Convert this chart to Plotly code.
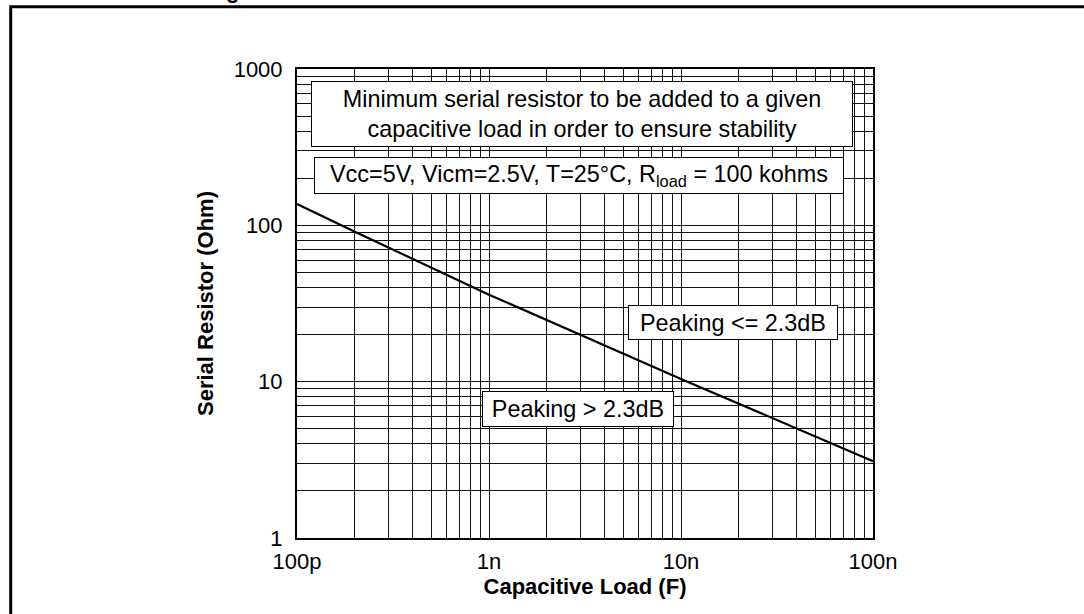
import plotly.graph_objects as go

# Data
cap_load_f = [1e-10, 2e-10, 1e-9, 1e-8, 1e-7]
serial_res_ohm = [137, 91, 36, 10.4, 3.1]

x_major = [1e-10, 1e-9, 1e-8, 1e-7]
x_major_text = ["100p", "1n", "10n", "100n"]
y_major = [1, 10, 100, 1000]
y_major_text = ["1", "10", "100", "1000"]

note_title = "Minimum serial resistor to be added to a given<br>capacitive load in order to ensure stability"
note_cond = "Vcc=5V, Vicm=2.5V, T=25°C, R<sub>load</sub> = 100 kohms"
note_low = "Peaking <= 2.3dB"
note_high = "Peaking > 2.3dB"
cut_heading = "<b>g</b>"


def log_ticks(majors, texts):
    vals, labels = [], []
    for i, m in enumerate(majors):
        vals.append(m)
        labels.append(texts[i])
        if i < len(majors) - 1:
            for k in range(2, 10):
                vals.append(m * k)
                labels.append("")
    return vals, labels


xt_vals, xt_text = log_ticks(x_major, x_major_text)
yt_vals, yt_text = log_ticks(y_major, y_major_text)

FONT = "Liberation Sans, Arial, sans-serif"
W, H = 1084, 614
L, R, T, B = 297, 211, 69, 76
PW, PH = W - L - R, H - T - B


def px(xp):
    return (xp - L) / PW


def py(yp):
    return (H - B - yp) / PH


fig = go.Figure()
fig.add_trace(go.Scatter(
    x=cap_load_f, y=serial_res_ohm, mode="lines",
    line=dict(color="black", width=2.2), showlegend=False,
    hoverinfo="x+y"))

axis_common = dict(
    type="log", showline=True, linecolor="black", linewidth=2, mirror=True,
    showgrid=True, gridcolor="#111111", gridwidth=1, zeroline=False,
    ticks="", tickfont=dict(family=FONT, size=22, color="black"),
)

fig.update_xaxes(
    **axis_common,
    range=[-10, -7], tickmode="array", tickvals=xt_vals, ticktext=xt_text,
    ticklabelstandoff=3,
    title=dict(text="<b>Capacitive Load (F)</b>",
               font=dict(family=FONT, size=22, color="black"), standoff=5),
)
fig.update_yaxes(
    **axis_common,
    range=[0, 3], tickmode="array", tickvals=yt_vals, ticktext=yt_text,
    ticklabelstandoff=8,
    title=dict(text="<b>Serial Resistor (Ohm)</b>",
               font=dict(family=FONT, size=22, color="black"), standoff=14),
)


def box(text, x0, x1, y0, y1):
    return dict(
        xref="paper", yref="paper",
        x=px((x0 + x1) / 2), y=py((y0 + y1) / 2),
        xanchor="center", yanchor="middle",
        text=text, showarrow=False, align="center",
        font=dict(family=FONT, size=23.4, color="black"),
        bgcolor="white", bordercolor="black", borderwidth=1, borderpad=0,
        width=x1 - x0 - 2, height=y1 - y0 - 2,
    )


fig.update_layout(
    width=W, height=H,
    margin=dict(l=L, r=R, t=T, b=B, autoexpand=False),
    paper_bgcolor="white", plot_bgcolor="white",
    font=dict(family=FONT, color="black"),
    annotations=[
        box(note_title, 311, 853, 81, 147),
        box(note_cond, 314, 844, 157, 194),
        box(note_low, 628, 838, 305, 340),
        box(note_high, 482, 674, 391, 427),
        dict(xref="paper", yref="paper", x=px(232), y=py(5),
             xanchor="center", yanchor="bottom", text=cut_heading,
             showarrow=False, font=dict(family=FONT, size=22, color="black")),
    ],
    shapes=[dict(
        type="rect", xref="paper", yref="paper",
        x0=px(10.7), x1=px(1100), y0=py(6.8), y1=py(640),
        line=dict(color="black", width=3), fillcolor="rgba(0,0,0,0)",
        layer="above")],
)

fig.write_html(
    "out.html",
    config={"displayModeBar": False},
    post_script="document.body.style.margin='0';document.body.style.overflow='hidden';",
)
